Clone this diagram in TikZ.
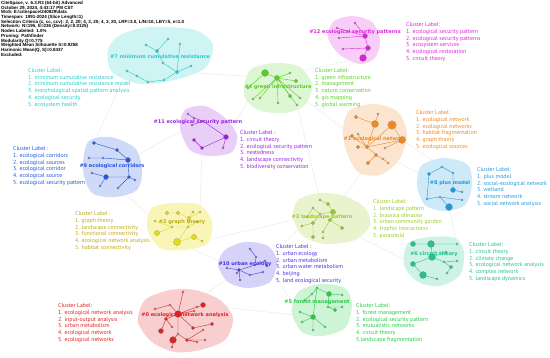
\documentclass[tikz,border=0pt]{standalone}
\usepackage{fontspec}
\setmainfont{Liberation Sans}
\newfontfamily\labelfont{PT Sans}
\newfontfamily\titlefont{DejaVu Sans}
\usetikzlibrary{positioning}
\definecolor{netred}{HTML}{DD2222}
\definecolor{netorange}{HTML}{EE8822}
\definecolor{netyellow}{HTML}{E6DC10}
\definecolor{netolive}{HTML}{BBAA11}
\definecolor{netlime}{HTML}{99CC22}
\definecolor{netgreen}{HTML}{55D022}
\definecolor{netgrass}{HTML}{22CC44}
\definecolor{netteal}{HTML}{22C488}
\definecolor{netcyan}{HTML}{22CCCC}
\definecolor{netsky}{HTML}{2299DD}
\definecolor{netblue}{HTML}{2255DD}
\definecolor{netviolet}{HTML}{4433DD}
\definecolor{netpurple}{HTML}{9922DD}
\definecolor{netmagenta}{HTML}{DD22DD}
\pgfdeclarelayer{background}
\pgfdeclarelayer{edges}
\pgfsetlayers{background,edges,main}
\tikzset{
    dot/.style={circle, draw=black!45, line width=0.2pt, inner sep=0pt, minimum size=2.4pt},
    mdot/.style={dot, minimum size=3.6pt},
    ldot/.style={dot, minimum size=5.2pt},
    xdot/.style={dot, minimum size=7pt},
    link/.style={line width=0.4pt},
    bglink/.style={draw=black!7, line width=0.6pt},
    title/.style={inner sep=0pt, font={\titlefont\bfseries\fontsize{5}{6}\selectfont}},
    lbl/.style={anchor=north west, align=left, inner sep=0pt, font={\labelfont\fontsize{5.8}{6.7}\selectfont}},
    info/.style={anchor=north west, align=left, inner sep=0pt, font={\bfseries\fontsize{4.5}{4.7}\selectfont}}
}
\begin{document}
\begin{tikzpicture}[x=1pt, y=-1pt]
    \useasboundingbox (0,0) rectangle (550,358);

    \node[info] (head) at (1,1) {CiteSpace, v. 6.3.R3 (64-bit) Advanced\\October 29, 2024, 4:43:17 PM CST\\WoS: E:\textbackslash citespace\textbackslash 240829\textbackslash data\\Timespan: 1991-2024 (Slice Length=1)\\Selection Criteria (c, cc, ccv): 2, 2, 20; 4, 3, 20; 4, 3, 20, LRF=3.0, L/N=10, LBY=5, e=1.0\\Network: N=195, E=236 (Density=0.0125)\\Nodes Labeled: 1.0\%\\Pruning: Pathfinder\\Modularity Q=0.775\\Weighted Mean Silhouette S=0.9258\\Harmonic Mean(Q, S)=0.8437\\Excluded:};

    % cluster 7
    \node[dot, fill=netcyan] (n7a) at (146,45) {}; \node[mdot, fill=netcyan] (n7b) at (157,51) {};
    \node[dot, fill=netcyan] (n7c) at (168,39) {}; \node[dot, fill=netcyan] (n7d) at (180,44) {};
    \node[dot, fill=netcyan] (n7e) at (163,63) {}; \node[mdot, fill=netcyan] (n7f) at (177,72) {};
    \node[dot, fill=netcyan] (n7g) at (191,66) {}; \node[dot, fill=netcyan] (n7h) at (127,71) {};
    \node[dot, fill=netcyan] (n7i) at (137,76) {}; \node[dot, fill=netcyan] (n7j) at (148,82) {};
    \node[dot, fill=netcyan] (n7k) at (164,80) {};
    % cluster 4
    \node[xdot, fill=netgreen] (n4a) at (265,73) {}; \node[ldot, fill=netgreen] (n4b) at (277,78) {};
    \node[dot, fill=netgreen] (n4c) at (290,73) {}; \node[mdot, fill=netgreen] (n4d) at (296,81) {};
    \node[mdot, fill=netgreen] (n4e) at (290,96) {}; \node[dot, fill=netgreen] (n4f) at (300,98) {};
    \node[dot, fill=netgreen] (n4g) at (260,98) {}; \node[dot, fill=netgreen] (n4h) at (253,99) {};
    \node[dot, fill=netgreen] (n4i) at (278,103) {}; \node[dot, fill=netgreen] (n4j) at (297,105) {};
    \node[dot, fill=netgreen] (n4k) at (248,88) {};
    % cluster 12
    \node[dot, fill=netmagenta] (n12a) at (355,23) {}; \node[dot, fill=netmagenta] (n12b) at (337,28) {};
    \node[dot, fill=netmagenta] (n12c) at (339,38) {}; \node[dot, fill=netmagenta] (n12d) at (343,49) {};
    \node[ldot, fill=netmagenta] (n12e) at (365,36) {}; \node[ldot, fill=netmagenta] (n12f) at (368,48) {};
    \node[xdot, fill=netmagenta] (n12g) at (363,58) {};
    % cluster 11
    \node[dot, fill=netpurple] (n11a) at (188,114) {}; \node[dot, fill=netpurple] (n11b) at (194,118) {};
    \node[dot, fill=netpurple] (n11c) at (203,121) {}; \node[dot, fill=netpurple] (n11d) at (192,125) {};
    \node[ldot, fill=netpurple] (n11e) at (226,137) {}; \node[mdot, fill=netpurple] (n11f) at (194,140) {};
    \node[mdot, fill=netpurple] (n11g) at (202,148) {}; \node[dot, fill=netpurple] (n11h) at (223,148) {};
    % cluster 1
    \node[mdot, fill=netorange] (n1a) at (356,117) {}; \node[dot, fill=netorange] (n1b) at (378,114) {};
    \node[xdot, fill=netorange] (n1c) at (375,124) {}; \node[xdot, fill=netorange, minimum size=8.5pt] (n1d) at (392,125) {};
    \node[xdot, fill=netorange] (n1e) at (402,140) {}; \node[mdot, fill=netorange] (n1f) at (367,147) {};
    \node[mdot, fill=netorange] (n1g) at (358,147) {}; \node[mdot, fill=netorange] (n1h) at (352,136) {};
    \node[mdot, fill=netorange] (n1i) at (376,155) {}; \node[dot, fill=netorange] (n1j) at (383,159) {};
    \node[mdot, fill=netorange] (n1k) at (368,163) {}; \node[dot, fill=netorange] (n1l) at (388,163) {};
    \node[dot, fill=netorange] (n1m) at (385,148) {}; \node[dot, fill=netorange] (n1n) at (358,134) {};
    % cluster 8
    \node[dot, fill=netsky] (n8a) at (442,167) {}; \node[mdot, fill=netsky] (n8b) at (429,174) {};
    \node[dot, fill=netsky] (n8c) at (453,173) {}; \node[ldot, fill=netsky] (n8d) at (453,190) {};
    \node[dot, fill=netsky] (n8e) at (462,192) {}; \node[dot, fill=netsky] (n8f) at (462,200) {};
    \node[dot, fill=netsky] (n8g) at (440,197) {}; \node[dot, fill=netsky] (n8h) at (427,199) {};
    \node[xdot, fill=netsky] (n8i) at (449,207) {};
    % cluster 9
    \node[mdot, fill=netblue] (n9a) at (94,143) {}; \node[mdot, fill=netblue] (n9b) at (117,150) {};
    \node[ldot, fill=netblue] (n9c) at (128,160) {}; \node[dot, fill=netblue] (n9d) at (89,158) {};
    \node[dot, fill=netblue] (n9e) at (103,158) {}; \node[ldot, fill=netblue] (n9f) at (106,177) {};
    \node[dot, fill=netblue] (n9g) at (92,173) {}; \node[mdot, fill=netblue] (n9h) at (129,177) {};
    \node[dot, fill=netblue] (n9i) at (135,180) {}; \node[dot, fill=netblue] (n9j) at (100,186) {};
    \node[dot, fill=netblue] (n9k) at (118,188) {};
    % cluster 2
    \node[mdot, fill=netyellow] (n2a) at (167,213) {}; \node[mdot, fill=netyellow] (n2b) at (178,213) {};
    \node[mdot, fill=netyellow] (n2c) at (189,218) {}; \node[dot, fill=netyellow] (n2d) at (193,212) {};
    \node[dot, fill=netyellow] (n2e) at (200,212) {}; \node[dot, fill=netyellow] (n2f) at (155,221) {};
    \node[dot, fill=netyellow] (n2g) at (172,227) {}; \node[dot, fill=netyellow] (n2h) at (188,227) {};
    \node[dot, fill=netyellow] (n2i) at (197,222) {}; \node[ldot, fill=netyellow] (n2j) at (157,233) {};
    \node[xdot, fill=netyellow] (n2k) at (177,242) {}; \node[ldot, fill=netyellow] (n2l) at (194,237) {};
    \node[dot, fill=netyellow] (n2m) at (202,241) {};
    % cluster 3
    \node[dot, fill=netlime] (n3a) at (320,200) {}; \node[mdot, fill=netlime] (n3b) at (328,204) {};
    \node[ldot, fill=netlime] (n3c) at (333,212) {}; \node[dot, fill=netlime] (n3d) at (313,208) {};
    \node[dot, fill=netlime] (n3e) at (307,217) {}; \node[dot, fill=netlime] (n3f) at (320,214) {};
    \node[mdot, fill=netlime] (n3g) at (313,223) {}; \node[mdot, fill=netlime] (n3h) at (330,220) {};
    \node[dot, fill=netlime] (n3j) at (323,232) {}; \node[mdot, fill=netlime] (n3k) at (342,228) {};
    \node[dot, fill=netlime] (n3l) at (302,226) {}; \node[mdot, fill=netlime] (n3m) at (313,237) {};
    \node[dot, fill=netlime] (n3n) at (323,238) {};
    % cluster 10
    \node[dot, fill=netviolet] (n10a) at (250,249) {}; \node[dot, fill=netviolet] (n10b) at (256,257) {};
    \node[dot, fill=netviolet] (n10c) at (265,261) {}; \node[mdot, fill=netviolet] (n10d) at (239,270) {};
    \node[dot, fill=netviolet] (n10e) at (227,268) {}; \node[dot, fill=netviolet] (n10f) at (237,273) {};
    \node[dot, fill=netviolet] (n10g) at (240,280) {}; \node[dot, fill=netviolet] (n10h) at (250,275) {};
    \node[dot, fill=netviolet] (n10i) at (255,265) {}; \node[dot, fill=netviolet] (n10j) at (267,266) {};
    \node[dot, fill=netviolet] (n10k) at (263,272) {};
    % cluster 0
    \node[dot, fill=netred] (n0a) at (183,292) {}; \node[dot, fill=netred] (n0b) at (170,305) {};
    \node[dot, fill=netred] (n0c) at (155,309) {}; \node[xdot, fill=netred] (n0d) at (178,314) {};
    \node[ldot, fill=netred] (n0e) at (203,305) {}; \node[dot, fill=netred] (n0f) at (197,307) {};
    \node[dot, fill=netred] (n0g) at (194,311) {}; \node[mdot, fill=netred] (n0h) at (166,319) {};
    \node[ldot, fill=netred] (n0i) at (161,331) {}; \node[dot, fill=netred] (n0j) at (172,327) {};
    \node[mdot, fill=netred] (n0k) at (193,328) {}; \node[mdot, fill=netred] (n0l) at (212,324) {};
    \node[dot, fill=netred] (n0m) at (178,334) {}; \node[xdot, fill=netred] (n0n) at (173,340) {};
    \node[dot, fill=netred] (n0o) at (172,347) {}; \node[mdot, fill=netred] (n0p) at (187,340) {};
    \node[dot, fill=netred] (n0q) at (203,330) {}; \node[dot, fill=netred] (n0r) at (205,340) {};
    \node[dot, fill=netred] (n0s) at (197,342) {};
    % cluster 6
    \node[ldot, fill=netteal] (n6a) at (413,244) {}; \node[xdot, fill=netteal] (n6b) at (431,244) {};
    \node[dot, fill=netteal] (n6c) at (457,244) {}; \node[xdot, fill=netteal] (n6d) at (432,257) {};
    \node[ldot, fill=netteal] (n6e) at (413,264) {}; \node[xdot, fill=netteal] (n6f) at (423,275) {};
    \node[dot, fill=netteal] (n6g) at (444,262) {}; \node[mdot, fill=netteal] (n6h) at (451,267) {};
    \node[dot, fill=netteal] (n6i) at (457,261) {}; \node[dot, fill=netteal] (n6j) at (447,273) {};
    \node[dot, fill=netteal] (n6k) at (437,279) {}; \node[dot, fill=netteal] (n6l) at (446,252) {};
    % cluster 5
    \node[dot, fill=netgrass] (n5a) at (317,288) {}; \node[ldot, fill=netgrass] (n5b) at (329,294) {};
    \node[dot, fill=netgrass] (n5c) at (342,295) {}; \node[dot, fill=netgrass] (n5d) at (312,294) {};
    \node[dot, fill=netgrass] (n5e) at (305,300) {}; \node[dot, fill=netgrass] (n5f) at (328,307) {};
    \node[mdot, fill=netgrass] (n5g) at (335,310) {}; \node[dot, fill=netgrass] (n5h) at (342,307) {};
    \node[dot, fill=netgrass] (n5i) at (300,312) {}; \node[ldot, fill=netgrass] (n5j) at (313,317) {};
    \node[dot, fill=netgrass] (n5k) at (302,322) {}; \node[dot, fill=netgrass] (n5l) at (325,327) {};
    \node[dot, fill=netgrass] (n5m) at (313,330) {};

    \begin{pgfonlayer}{background}
        \draw[bglink] (n7f) -- (n4b) (n4b) -- (n1f) (n11e) -- (n4a) (n9c) -- (n11d) (n1f) -- (n8d)
            (n3c) -- (n1k) (n2k) -- (n10d) (n10d) -- (n0d) (n10j) -- (n5i) (n3k) -- (n6e)
            (n12g) -- (n4c) (n9f) -- (n2f) (n0e) -- (n5j) (n11g) -- (n2e) (n7h) -- (n9a)
            (n4j) -- (n3a) (n8i) -- (n6c) (n10c) -- (n3l) (n2m) -- (n3e) (n1e) -- (n8a);
        \fill[netcyan!22] plot[smooth cycle] coordinates {(120,35) (150,27) (195,30) (213,45) (205,68) (175,80) (140,84) (112,72) (108,50)};
        \fill[netgreen!20] plot[smooth cycle] coordinates {(250,70) (275,63) (300,67) (312,85) (305,105) (285,113) (258,110) (244,95)};
        \fill[netmagenta!22] plot[smooth cycle] coordinates {(333,22) (352,16) (372,22) (380,40) (375,58) (360,64) (340,55) (328,38)};
        \fill[netpurple!22] plot[smooth cycle] coordinates {(185,110) (205,106) (225,118) (237,135) (232,152) (210,156) (190,150) (180,128)};
        \fill[netorange!22] plot[smooth cycle] coordinates {(350,110) (375,104) (398,112) (407,135) (399,160) (380,175) (358,172) (346,150) (343,128)};
        \fill[netsky!22] plot[smooth cycle] coordinates {(422,165) (445,158) (468,165) (472,185) (465,205) (445,211) (425,205) (417,185)};
        \fill[netblue!22] plot[smooth cycle] coordinates {(88,142) (110,137) (135,148) (142,170) (137,190) (115,197) (92,193) (83,170)};
        \fill[netyellow!30] plot[smooth cycle] coordinates {(152,208) (175,203) (200,205) (212,222) (208,243) (185,250) (160,248) (147,228)};
        \fill[netlime!22] plot[smooth cycle] coordinates {(298,200) (320,193) (345,196) (365,208) (370,225) (355,240) (325,244) (303,236) (293,218)};
        \fill[netviolet!22] plot[smooth cycle] coordinates {(225,250) (245,242) (268,246) (277,262) (270,282) (248,288) (228,282) (218,265)};
        \fill[netred!22] plot[smooth cycle] coordinates {(145,300) (170,290) (195,290) (220,300) (233,318) (225,340) (200,350) (175,352) (152,342) (138,322)};
        \fill[netteal!22] plot[smooth cycle] coordinates {(408,243) (430,237) (455,238) (464,252) (460,275) (440,286) (418,282) (404,265)};
        \fill[netgrass!22] plot[smooth cycle] coordinates {(298,292) (320,284) (345,288) (352,305) (345,328) (322,336) (302,332) (292,312)};
    \end{pgfonlayer}

    \begin{pgfonlayer}{edges}
        \draw[link, netcyan] (n7a) -- (n7b) (n7b) -- (n7c) (n7b) -- (n7e) (n7e) -- (n7f) (n7d) -- (n7f)
            (n7f) -- (n7g) (n7f) -- (n7k) (n7k) -- (n7j) (n7j) -- (n7i) (n7i) -- (n7h);
        \draw[link, netgreen] (n4b) -- (n4a) (n4b) -- (n4c) (n4b) -- (n4d) (n4b) -- (n4e) (n4b) -- (n4f)
            (n4b) -- (n4g) (n4b) -- (n4h) (n4b) -- (n4i) (n4b) -- (n4j) (n4a) -- (n4k);
        \draw[link, netmagenta] (n12a) -- (n12e) (n12b) -- (n12e) (n12c) -- (n12e) (n12d) -- (n12f)
            (n12e) -- (n12f) (n12f) -- (n12g);
        \draw[link, netpurple] (n11a) -- (n11b) (n11b) -- (n11c) (n11c) -- (n11d) (n11c) -- (n11e)
            (n11e) -- (n11g) (n11g) -- (n11f) (n11e) -- (n11h);
        \draw[link, netorange] (n1a) -- (n1c) (n1b) -- (n1c) (n1c) -- (n1f) (n1d) -- (n1f) (n1d) -- (n1e)
            (n1e) -- (n1f) (n1h) -- (n1f) (n1n) -- (n1f) (n1g) -- (n1f) (n1f) -- (n1i) (n1i) -- (n1k)
            (n1i) -- (n1j) (n1j) -- (n1l) (n1m) -- (n1e);
        \draw[link, netsky] (n8a) -- (n8b) (n8b) -- (n8h) (n8h) -- (n8g) (n8g) -- (n8i) (n8a) -- (n8c)
            (n8c) -- (n8d) (n8d) -- (n8e) (n8g) -- (n8f);
        \draw[link, netblue] (n9a) -- (n9b) (n9b) -- (n9c) (n9d) -- (n9e) (n9e) -- (n9c) (n9c) -- (n9h)
            (n9f) -- (n9h) (n9f) -- (n9g) (n9f) -- (n9j) (n9h) -- (n9i) (n9h) -- (n9k);
        \draw[link, netyellow] (n2a) -- (n2b) (n2b) -- (n2c) (n2c) -- (n2d) (n2c) -- (n2e) (n2c) -- (n2h)
            (n2h) -- (n2g) (n2g) -- (n2f) (n2g) -- (n2j) (n2h) -- (n2i) (n2h) -- (n2k) (n2k) -- (n2l) (n2l) -- (n2m);
        \draw[link, netlime] (n3a) -- (n3b) (n3b) -- (n3c) (n3c) -- (n3f) (n3f) -- (n3d) (n3d) -- (n3e)
            (n3f) -- (n3g) (n3g) -- (n3l) (n3g) -- (n3m) (n3c) -- (n3h) (n3h) -- (n3k) (n3h) -- (n3j) (n3j) -- (n3n);
        \draw[link, netviolet] (n10a) -- (n10b) (n10b) -- (n10i) (n10i) -- (n10d) (n10d) -- (n10e) (n10d) -- (n10f)
            (n10d) -- (n10g) (n10d) -- (n10h) (n10i) -- (n10c) (n10c) -- (n10j) (n10h) -- (n10k);
        \draw[link, netred] (n0d) -- (n0a) (n0d) -- (n0b) (n0b) -- (n0c) (n0d) -- (n0f) (n0f) -- (n0e)
            (n0d) -- (n0g) (n0d) -- (n0h) (n0h) -- (n0i) (n0h) -- (n0j) (n0d) -- (n0k) (n0k) -- (n0l)
            (n0d) -- (n0m) (n0m) -- (n0n) (n0n) -- (n0o) (n0m) -- (n0p) (n0p) -- (n0q) (n0p) -- (n0r) (n0p) -- (n0s);
        \draw[link, netteal] (n6a) -- (n6b) (n6b) -- (n6c) (n6b) -- (n6d) (n6d) -- (n6l) (n6d) -- (n6g)
            (n6g) -- (n6h) (n6g) -- (n6i) (n6d) -- (n6e) (n6e) -- (n6f) (n6f) -- (n6k) (n6h) -- (n6j);
        \draw[link, netgrass] (n5a) -- (n5b) (n5b) -- (n5c) (n5a) -- (n5d) (n5d) -- (n5e) (n5b) -- (n5f)
            (n5f) -- (n5g) (n5f) -- (n5h) (n5a) -- (n5j) (n5j) -- (n5i) (n5j) -- (n5k) (n5j) -- (n5l) (n5j) -- (n5m);
    \end{pgfonlayer}

    % cluster titles
    \node[title, text=netcyan] (t7) at (160,57) {\#7 minimum cumulative resistance};
    \node[title, text=netgreen] (t4) at (278,87) {\#4 green infrastructure};
    \node[title, text=netmagenta] (t12) at (355,32) {\#12 ecological security patterns};
    \node[title, text=netpurple] (t11) at (198,122) {\#11 ecological security pattern};
    \node[title, text=netorange] (t1) at (375,139) {\#1 ecological network};
    \node[title, text=netsky] (t8) at (450,183) {\#8 plus model};
    \node[title, text=netblue] (t9) at (112,166) {\#9 ecological corridors};
    \node[title, text=netolive] (t2) at (182,222) {\#2 graph theory};
    \node[title, text=netlime] (t3) at (322,217) {\#3 landscape pattern};
    \node[title, text=netviolet] (t10) at (245,264) {\#10 urban ecology};
    \node[title, text=netred] (t0) at (185,315) {\#0 ecological network analysis};
    \node[title, text=netteal] (t6) at (434,254) {\#6 circuit theory};
    \node[title, text=netgrass] (t5) at (317,302) {\#5 forest management};

    % cluster labels
    \node[lbl, text=netcyan] (lab7) at (28,68.2) {Cluster Label:\\1. minimum cumulative resistance\\2. minimum cumulative resistance model\\3. morphological spatial pattern analysis\\4. ecological security\\5. ecosystem health};
    \node[lbl, text=netgreen] (lab4) at (315,68.2) {Cluster Label:\\1. green infrastructure\\2. management\\3. nature conservation\\4. gis mapping\\5. global warming};
    \node[lbl, text=netmagenta] (lab12) at (406,22.5) {Cluster Label:\\1. ecological security pattern\\2. ecological security patterns\\3. ecosystem services\\4. ecological restoration\\5. circuit theory};
    \node[lbl, text=netpurple] (lab11) at (240,130.5) {Cluster Label :\\1. circuit theory\\2. ecological security pattern\\3. nestedness\\4. landscape connectivity\\5. biodiversity conservation};
    \node[lbl, text=netorange] (lab1) at (416,110.5) {Cluster Label:\\1. ecological network\\2. ecological networks\\3. habitat fragmentation\\4. graph theory\\5. ecological sources};
    \node[lbl, text=netsky] (lab8) at (477,167.5) {Cluster Label:\\1. plus model\\2. social-ecological network\\3. wetland\\4. stream network\\5. social network analysis};
    \node[lbl, text=netblue] (lab9) at (13,146.5) {Cluster Label :\\1. ecological corridors\\2. ecological sources\\3. ecological corridor\\4. ecological source\\5. ecological security pattern};
    \node[lbl, text=netolive] (lab2) at (75,211.5) {Cluster Label :\\1. graph theory\\2. landscape connectivity\\3. functional connectivity\\4. ecological network analysis\\5. habitat connectivity};
    \node[lbl, text=netlime] (lab3) at (373,199.5) {Cluster Label:\\1. landscape pattern\\2. brassica oleracea\\3. urban community garden\\4. trophic interactions\\5. parasitoid};
    \node[lbl, text=netviolet] (lab10) at (276,244.5) {Cluster Label :\\1. urban ecology\\2. urban metabolism\\3. urban water metabolism\\4. beijing\\5. land ecological security};
    \node[lbl, text=netred] (lab0) at (58,303.5) {Cluster Label:\\1. ecological network analysis\\2. input-output analysis\\3. urban metabolism\\4. ecological network\\5. ecological networks};
    \node[lbl, text=netteal] (lab6) at (469,242.5) {Cluster Label:\\1. circuit theory\\2. climate change\\3. ecological network analysis\\4. complex network\\5. landscape dynamics};
    \node[lbl, text=netgrass] (lab5) at (356,303.5) {Cluster Label:\\1. forest management\\2. ecological security pattern\\3. mutualistic networks\\4. circuit theory\\5.landscape fragmentation};
\end{tikzpicture}
\end{document}
